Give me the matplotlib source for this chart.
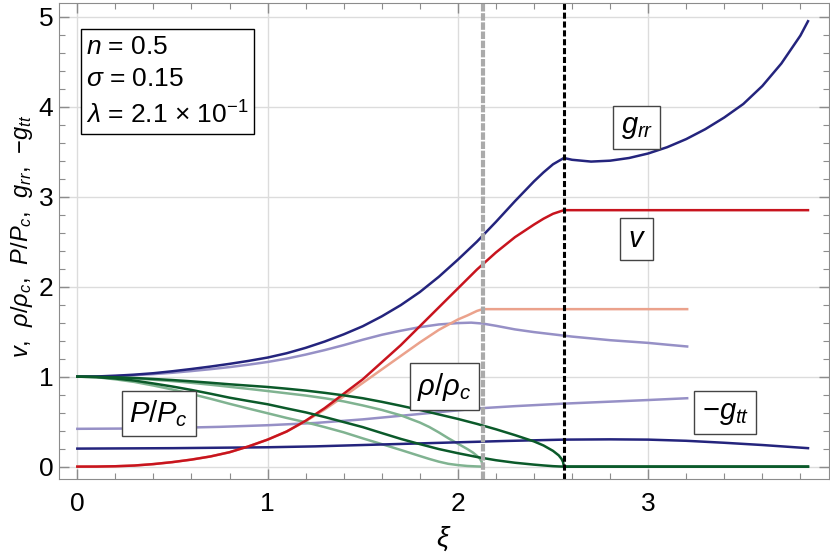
import numpy as np
import matplotlib
matplotlib.use("Agg")
import matplotlib.pyplot as plt
from matplotlib.ticker import MultipleLocator

plt.rcParams['font.family'] = ['Liberation Sans', 'DejaVu Sans']
plt.rcParams['mathtext.fontset'] = 'custom'
plt.rcParams['mathtext.rm'] = 'Liberation Sans'
plt.rcParams['mathtext.it'] = 'Liberation Sans:italic'

# surface radii of the two models
xi_edge1 = 2.557
xi_edge2 = 2.13

# ---- model 1 (dark curves) ----
xi_grr = [0, 0.1, 0.2, 0.3, 0.4, 0.5, 0.6, 0.7, 0.8, 0.9, 1.0, 1.1, 1.2, 1.3, 1.4, 1.5,
          1.6, 1.7, 1.8, 1.9, 2.0, 2.1, 2.2, 2.3, 2.4, 2.45, 2.5, 2.557, 2.6, 2.7, 2.8,
          2.9, 3.0, 3.1, 3.2, 3.3, 3.4, 3.5, 3.6, 3.7, 3.8, 3.84]
grr = [1.0, 1.002, 1.01, 1.022, 1.038, 1.06, 1.085, 1.112, 1.142, 1.175, 1.212, 1.26,
       1.32, 1.39, 1.47, 1.56, 1.67, 1.795, 1.94, 2.11, 2.30, 2.50, 2.72, 2.95, 3.17,
       3.27, 3.36, 3.43, 3.41, 3.39, 3.40, 3.43, 3.48, 3.55, 3.64, 3.75, 3.88, 4.03, 4.23,
       4.48, 4.79, 4.95]

xi_v = [0, 0.1, 0.2, 0.3, 0.4, 0.5, 0.6, 0.7, 0.8, 0.9, 1.0, 1.1, 1.2, 1.3, 1.4, 1.5,
        1.6, 1.7, 1.8, 1.9, 2.0, 2.1, 2.2, 2.3, 2.4, 2.45, 2.5, 2.557, 3.84]
v = [0, 0.0005, 0.004, 0.012, 0.028, 0.05, 0.078, 0.113, 0.16, 0.225, 0.30, 0.39, 0.51,
     0.65, 0.81, 0.97, 1.16, 1.35, 1.56, 1.77, 1.98, 2.19, 2.38, 2.55, 2.69, 2.755, 2.81,
     2.85, 2.85]

xi_mgtt = [0, 0.5, 1.0, 1.25, 1.5, 1.75, 2.0, 2.25, 2.557, 2.8, 3.0, 3.2, 3.4, 3.6, 3.84]
mgtt = [0.20, 0.205, 0.215, 0.225, 0.24, 0.255, 0.27, 0.285, 0.30, 0.303, 0.30, 0.287,
        0.265, 0.24, 0.205]

xi_rho = [0, 0.1, 0.2, 0.3, 0.4, 0.5, 0.6, 0.7, 0.8, 0.9, 1.0, 1.1, 1.2, 1.3, 1.4, 1.5,
          1.6, 1.7, 1.8, 1.9, 2.0, 2.1, 2.2, 2.3, 2.4, 2.45, 2.5, 2.53, 2.545, 2.553,
          2.557, 3.84]
rho = [1.0, 0.998, 0.993, 0.985, 0.974, 0.962, 0.948, 0.932, 0.915, 0.90, 0.885, 0.866,
       0.845, 0.82, 0.792, 0.76, 0.72, 0.676, 0.63, 0.58, 0.53, 0.475, 0.415, 0.35, 0.28,
       0.235, 0.175, 0.125, 0.085, 0.05, 0.0, 0.0]

xi_P = [0, 0.1, 0.2, 0.3, 0.4, 0.5, 0.6, 0.7, 0.8, 0.9, 1.0, 1.1, 1.2, 1.3, 1.4, 1.5,
        1.6, 1.7, 1.8, 1.9, 2.0, 2.1, 2.2, 2.3, 2.4, 2.45, 2.5, 2.53, 2.557, 3.84]
P = [1.0, 0.994, 0.979, 0.956, 0.924, 0.89, 0.852, 0.81, 0.766, 0.729, 0.693, 0.647,
     0.603, 0.551, 0.495, 0.439, 0.373, 0.308, 0.25, 0.195, 0.149, 0.107, 0.071, 0.043,
     0.022, 0.013, 0.005, 0.002, 0.0, 0.0]

# ---- model 2 (light curves) ----
xi_grr2 = [0, 0.1, 0.2, 0.3, 0.4, 0.5, 0.6, 0.7, 0.8, 0.9, 1.0, 1.1, 1.2, 1.3, 1.4, 1.5,
           1.6, 1.7, 1.8, 1.9, 2.0, 2.07, 2.13, 2.2, 2.3, 2.4, 2.5, 2.6, 2.7, 2.8, 2.9,
           3.0, 3.1, 3.205]
grr2 = [1.0, 1.002, 1.007, 1.016, 1.028, 1.043, 1.062, 1.083, 1.106, 1.133, 1.163, 1.20,
        1.245, 1.295, 1.35, 1.41, 1.465, 1.51, 1.55, 1.58, 1.595, 1.60, 1.59, 1.565, 1.525,
        1.495, 1.47, 1.445, 1.425, 1.405, 1.39, 1.375, 1.355, 1.335]

xi_v2 = [0, 0.1, 0.2, 0.3, 0.4, 0.5, 0.6, 0.7, 0.8, 0.9, 1.0, 1.1, 1.2, 1.3, 1.4, 1.5,
         1.6, 1.7, 1.8, 1.9, 2.0, 2.05, 2.1, 2.13, 3.205]
v2 = [0, 0.0005, 0.004, 0.012, 0.028, 0.05, 0.078, 0.113, 0.16, 0.225, 0.30, 0.39, 0.505,
      0.635, 0.78, 0.93, 1.08, 1.23, 1.38, 1.52, 1.635, 1.68, 1.73, 1.75, 1.75]

xi_mgtt2 = [0, 0.25, 0.5, 0.75, 1.0, 1.25, 1.5, 1.75, 2.0, 2.13, 2.3, 2.557, 2.8, 3.0,
            3.205]
mgtt2 = [0.42, 0.423, 0.43, 0.442, 0.46, 0.485, 0.525, 0.575, 0.625, 0.65, 0.672, 0.70,
         0.722, 0.74, 0.76]

xi_rho2 = [0, 0.1, 0.2, 0.3, 0.4, 0.5, 0.6, 0.7, 0.8, 0.9, 1.0, 1.1, 1.2, 1.3, 1.4, 1.5,
           1.6, 1.7, 1.8, 1.85, 1.9, 1.95, 2.0, 2.05, 2.08, 2.1, 2.115, 2.125, 2.13]
rho2 = [1.0, 0.998, 0.99, 0.98, 0.966, 0.95, 0.931, 0.91, 0.887, 0.864, 0.84, 0.815,
        0.79, 0.76, 0.725, 0.68, 0.63, 0.57, 0.49, 0.44, 0.38, 0.315, 0.255, 0.195,
        0.155, 0.12, 0.09, 0.055, 0.0]

xi_P2 = [0, 0.1, 0.2, 0.3, 0.4, 0.5, 0.6, 0.7, 0.8, 0.9, 1.0, 1.1, 1.2, 1.3, 1.4, 1.5,
         1.6, 1.7, 1.8, 1.85, 1.9, 1.95, 2.0, 2.05, 2.1, 2.13]
P2 = [1.0, 0.994, 0.97, 0.941, 0.901, 0.857, 0.807, 0.754, 0.698, 0.645, 0.593, 0.541,
      0.493, 0.439, 0.381, 0.314, 0.25, 0.185, 0.118, 0.085, 0.055, 0.031, 0.017, 0.007,
      0.002, 0.0]

c_blue = '#24247d'
c_red = '#c8141e'
c_salmon = '#eba28c'
c_lpurple = '#9690c6'
c_green = '#0b5a2a'
c_lgreen = '#80b391'

fig = plt.figure(figsize=(8.3, 5.54), dpi=100)
ax = fig.add_axes([0.0707, 0.135, 0.928, 0.860])

lw = 1.8
ax.plot(xi_grr2, grr2, color=c_lpurple, lw=lw)
ax.plot(xi_mgtt2, mgtt2, color=c_lpurple, lw=lw)
ax.plot(xi_v2, v2, color=c_salmon, lw=lw)
ax.plot(xi_rho2, rho2, color=c_lgreen, lw=lw)
ax.plot(xi_P2, P2, color=c_lgreen, lw=lw)
ax.plot(xi_grr, grr, color=c_blue, lw=lw)
ax.plot(xi_mgtt, mgtt, color=c_blue, lw=lw)
ax.plot(xi_v, v, color=c_red, lw=lw)
ax.plot(xi_rho, rho, color=c_green, lw=lw)
ax.plot(xi_P, P, color=c_green, lw=lw)

ax.axvline(xi_edge2, color='#aaaaaa', lw=3.0, ls=(0, (1.8, 0.4)))
ax.axvline(xi_edge1, color='black', lw=2.2, ls=(0, (2.0, 0.9)))

ax.set_xlim(-0.098, 3.95)
ax.set_ylim(-0.14, 5.155)
ax.xaxis.set_major_locator(MultipleLocator(1))
ax.xaxis.set_minor_locator(MultipleLocator(0.2))
ax.yaxis.set_major_locator(MultipleLocator(1))
ax.yaxis.set_minor_locator(MultipleLocator(0.2))
ax.grid(True, which='major', color='#dcdcdc', lw=1.0)
ax.set_axisbelow(True)
ax.tick_params(which='both', direction='in', top=True, right=True, color='#8c8c8c',
               labelsize=19)
ax.tick_params(axis='x', which='major', pad=9)
ax.tick_params(axis='y', which='major', pad=4)
ax.tick_params(which='major', length=7, width=1)
ax.tick_params(which='minor', length=4, width=0.8)
for s in ax.spines.values():
    s.set_color('#8c8c8c')

ax.set_xlabel(r'$\xi$', fontsize=20)
ax.xaxis.set_label_coords(0.5, -0.095)
ax.set_ylabel(r'$v$,  $\rho/\rho_c$,  $P/P_c$,  $g_{rr}$,  $-g_{tt}$', fontsize=17)
ax.yaxis.set_label_coords(-0.031, 0.51)

ax.text(0.045, 4.80, '$n$ = 0.5\n$\\sigma$ = 0.15\n$\\lambda$ = 2.1 $\\times$ 10$^{-1}$',
        fontsize=19, va='top', ha='left', linespacing=1.45,
        bbox=dict(facecolor='white', edgecolor='black', lw=1.0, boxstyle='square,pad=0.2'))

box = dict(facecolor='white', edgecolor='#444444', lw=1.0, boxstyle='square,pad=0.25')
ax.text(2.94, 3.77, r'$g_{rr}$', fontsize=21, ha='center', va='center', bbox=box)
ax.text(2.94, 2.53, r'$v$', fontsize=21, ha='center', va='center', bbox=box)
ax.text(0.428, 0.59, r'$P/P_c$', fontsize=21, ha='center', va='center', bbox=box)
ax.text(1.93, 0.89, r'$\rho/\rho_c$', fontsize=21, ha='center', va='center', bbox=box)
ax.text(3.406, 0.60, r'$-g_{tt}$', fontsize=21, ha='center', va='center', bbox=box)

fig.savefig('out.png', dpi=100)
